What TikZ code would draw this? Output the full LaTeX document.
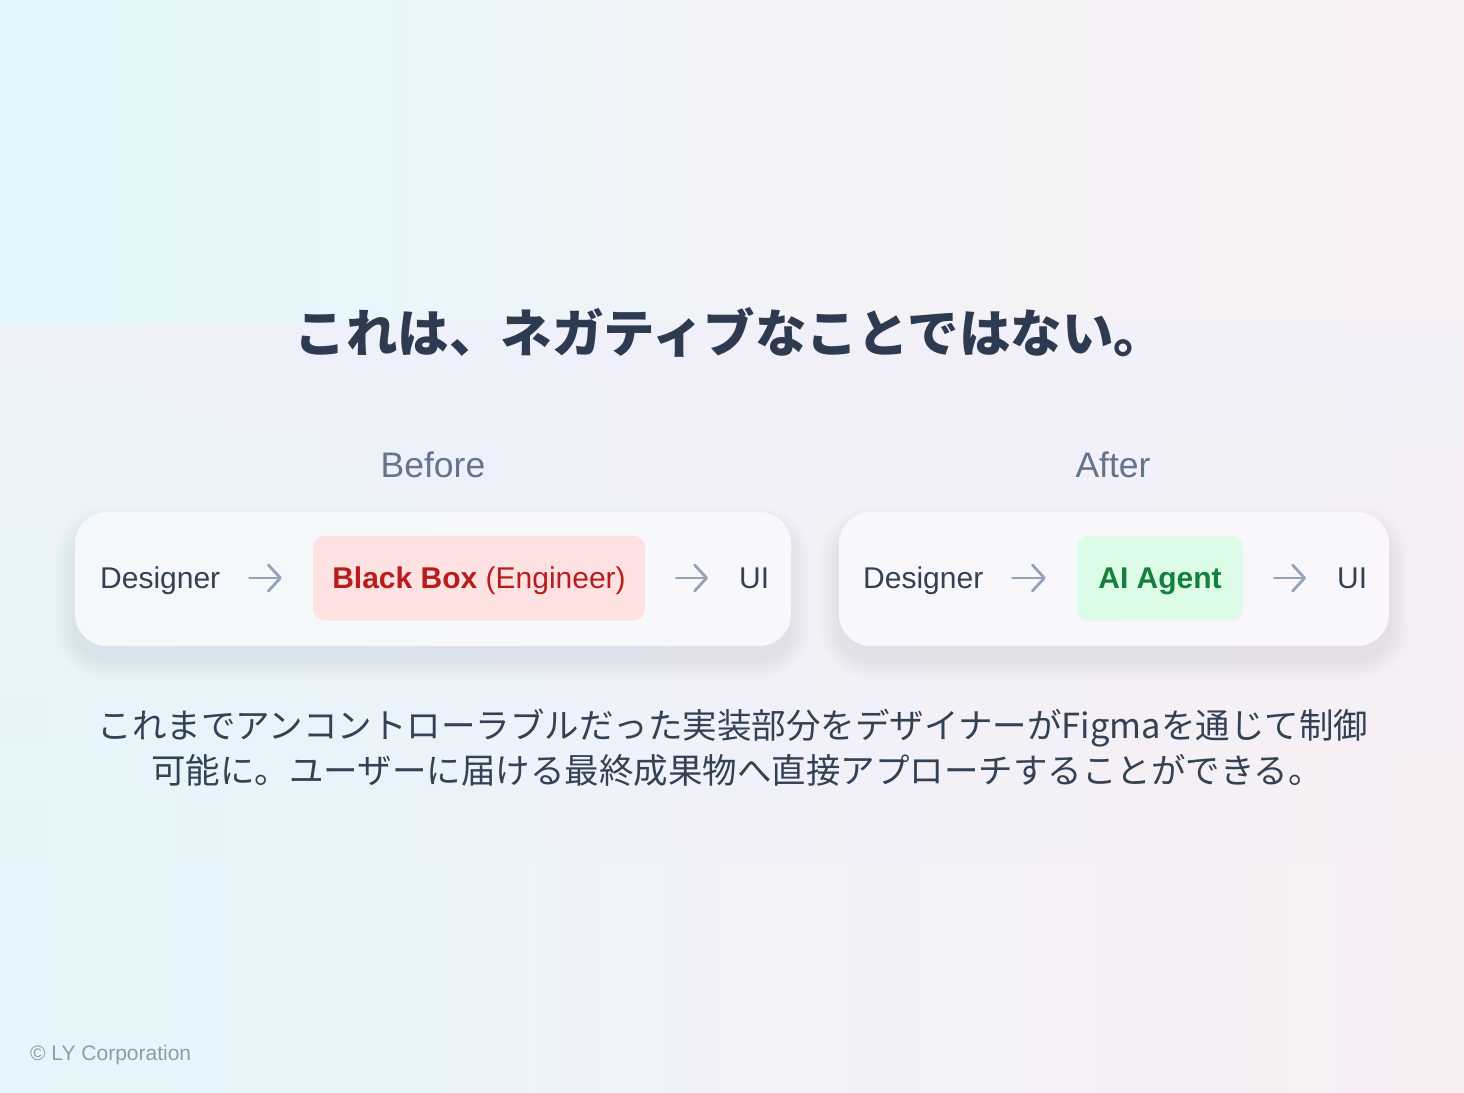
\documentclass[tikz,border=0pt]{standalone}
\usepackage{fontspec}
\setmainfont{Liberation Sans}
\newfontfamily\cjk{Noto Sans CJK JP}
\usetikzlibrary{fadings,arrows.meta}
\tikzfading[name=fadedown, top color=transparent!25, bottom color=transparent!100]
\definecolor{titlec}{HTML}{2D3A4F}
\definecolor{textc}{HTML}{334155}
\definecolor{arrowc}{HTML}{94A3B8}
\definecolor{labelc}{HTML}{64748B}
\definecolor{copyc}{HTML}{8E9BAB}
\definecolor{shadowc}{HTML}{5B6B8C}
\definecolor{redbg}{HTML}{FEE2E2}
\definecolor{redfg}{HTML}{B91C1C}
\definecolor{greenbg}{HTML}{DCFCE7}
\definecolor{greenfg}{HTML}{15803D}
\definecolor{bgTL}{HTML}{E2F8FC}
\definecolor{bgTQ}{HTML}{E7F7FB}
\definecolor{bgTM}{HTML}{F2F3F8}
\definecolor{bgTR}{HTML}{F9F0F4}
\definecolor{bgL}{HTML}{E4F6FB}
\definecolor{bgQ}{HTML}{E8F5FB}
\definecolor{bgM}{HTML}{F2F2F9}
\definecolor{bgR}{HTML}{F8EFF4}
\definecolor{lav}{HTML}{F1F0FA}
\definecolor{cardL}{HTML}{F4F8FB}
\definecolor{cardR}{HTML}{F9F7FC}
\pgfdeclarehorizontalshading{topband}{100bp}{color(0bp)=(bgTL); color(25bp)=(bgTL); color(37bp)=(bgTQ); color(50bp)=(bgTM); color(75bp)=(bgTR); color(100bp)=(bgTR)}
\pgfdeclarehorizontalshading{lowband}{100bp}{color(0bp)=(bgL); color(25bp)=(bgL); color(37bp)=(bgQ); color(50bp)=(bgM); color(75bp)=(bgR); color(100bp)=(bgR)}
\pgfdeclarelayer{back}
\pgfdeclarelayer{shade}
\pgfsetlayers{back,shade,main}
\tikzset{
  lbl/.style={font=\fontsize{30}{34}\selectfont, text=textc, inner sep=0pt, text height=21.5pt, text depth=0pt},
  card/.style={rounded corners=32pt, minimum height=134pt, draw=none},
  pill/.style={lbl, rounded corners=12pt, minimum height=85pt},
  flow/.style={draw=arrowc, line width=2.8pt, line cap=round,
    -{Straight Barb[length=12pt, width=26pt, line cap=round, line join=round]}},
  head/.style={font=\fontsize{35.5}{40}\selectfont, text=labelc, inner sep=0pt, text height=25.5pt, text depth=0pt},
  body/.style={font=\cjk\fontsize{34.5}{45}\selectfont, text=textc, inner sep=0pt, anchor=base},
}
\newcommand{\softshadow}[1]{%
  \begin{pgfonlayer}{shade}
  \foreach \k in {1,...,16}{
    \fill[shadowc, opacity=0.0045, rounded corners={32pt+1.2pt*\k}]
      ([xshift=-1.2pt*\k, yshift=-14pt-1.2pt*\k]#1.south west) rectangle ([xshift=1.2pt*\k, yshift=-14pt+1.2pt*\k]#1.north east);
  }
  \end{pgfonlayer}}
\begin{document}
\begin{tikzpicture}[x=1pt,y=-1pt]
\useasboundingbox (0,0) rectangle (1464,1092);
% background
\begin{pgfonlayer}{back}
\fill[shading=topband] (0,0) rectangle (1464,322);
\fill[shading=lowband] (0,322) rectangle (1464,1092);
\fill[lav, path fading=fadedown] (0,322) rectangle (1464,860);
\end{pgfonlayer}
% title
\node[font=\cjk\bfseries\fontsize{51.5}{60}\selectfont, text=titlec, inner sep=0pt, anchor=base] (title) at (730,352) {これは、ネガティブなことではない。};
% headings
\node[head] (before) at (433,465) {Before};
\node[head] (after) at (1113,465) {After};
% cards
\node[card, left color=cardL, right color=cardR!60!cardL, minimum width=716pt] (card1) at (433,579) {};
\node[card, left color=cardR!80!cardL, right color=cardR, minimum width=550pt] (card2) at (1114,579) {};
\softshadow{card1}
\softshadow{card2}
% before flow
\node[lbl, anchor=west] (d1) at (100,578) {Designer};
\node[pill, fill=redbg, text=redfg, minimum width=332pt] (bb) at (479,578) {\textbf{Black Box} (Engineer)};
\node[lbl, anchor=west] (ui1) at (739,578) {UI};
\draw[flow, shorten <=29pt, shorten >=31pt] (d1.east) -- (bb.west);
\draw[flow, shorten <=31pt, shorten >=31pt] (bb.east) -- (ui1.west);
% after flow
\node[lbl, anchor=west] (d2) at (863,578) {Designer};
\node[pill, fill=greenbg, text=greenfg, minimum width=166pt] (ag) at (1160,578) {\textbf{AI Agent}};
\node[lbl, anchor=west] (ui2) at (1337,578) {UI};
\draw[flow, shorten <=29pt, shorten >=31pt] (d2.east) -- (ag.west);
\draw[flow, shorten <=31pt, shorten >=31pt] (ag.east) -- (ui2.west);
% body
\node[body] (body1) at (733,738) {これまでアンコントローラブルだった実装部分をデザイナーがFigmaを通じて制御};
\node[body] (body2) at (737,783) {可能に。ユーザーに届ける最終成果物へ直接アプローチすることができる。};
% footer
\node[font=\fontsize{21}{24}\selectfont, text=copyc, inner sep=0pt, anchor=base west] (copy) at (30,1060) {© LY Corporation};
\end{tikzpicture}
\end{document}
